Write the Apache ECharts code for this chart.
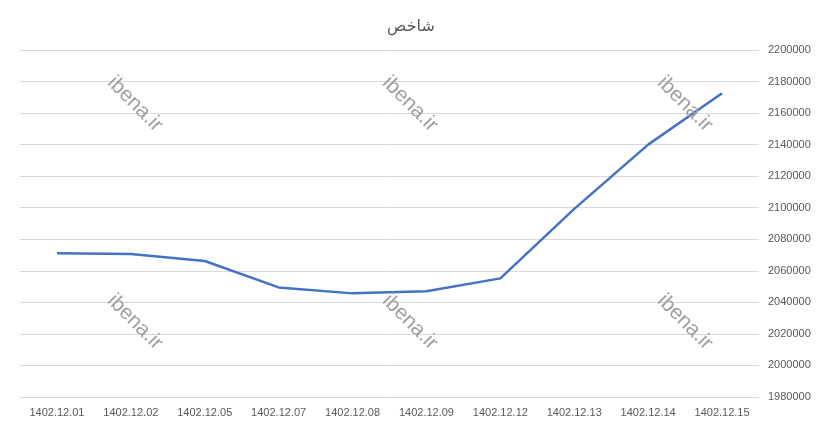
<!DOCTYPE html>
<html lang="fa">
<head>
  <meta charset="UTF-8">
  <script src="https://cdn.jsdelivr.net/npm/echarts@6/dist/echarts.min.js"></script>
  <title>شاخص</title>
  <style>
    html, body { margin: 0; padding: 0; background: #fff; }
    #chart { width: 822px; height: 430px; }
  </style>
</head>
<body>
<div id="chart"></div>
<script type="text/javascript">
  const dates = ['1402.12.01', '1402.12.02', '1402.12.05', '1402.12.07', '1402.12.08',
                 '1402.12.09', '1402.12.12', '1402.12.13', '1402.12.14', '1402.12.15'];
  const index = [2071100, 2070600, 2066200, 2049500, 2045700,
                 2047000, 2055200, 2099300, 2140000, 2172600];
  const watermarkSpots = [[135, 104], [410, 104], [685, 104], [135, 322], [410, 322], [685, 322]];

  const labelFont = '"Liberation Sans Narrow", "Liberation Sans", sans-serif';

  function watermarks() {
    return watermarkSpots.map(function (p) {
      return {
        type: 'text',
        x: p[0],
        y: p[1],
        rotation: -Math.PI / 4,
        z: 100,
        silent: true,
        style: {
          text: 'ibena.ir',
          fill: '#a0a0a0',
          font: '21px "Liberation Sans", sans-serif',
          align: 'center',
          verticalAlign: 'middle'
        }
      };
    });
  }

  let myChart = echarts.init(document.getElementById('chart'));
  myChart.setOption({
    animation: false,
    title: {
      text: 'شاخص',
      left: 'center',
      top: 14,
      textStyle: { color: '#595959', fontSize: 16, fontWeight: 'normal', fontFamily: '"DejaVu Sans", sans-serif' }
    },
    grid: { left: 20, right: 63, top: 50, bottom: 33 },
    xAxis: {
      type: 'category',
      data: dates,
      boundaryGap: true,
      axisLine: { show: false },
      axisTick: { show: false },
      axisLabel: { color: '#595959', fontSize: 11, fontFamily: labelFont, margin: 10, interval: 0 }
    },
    yAxis: {
      type: 'value',
      position: 'right',
      min: 1980000,
      max: 2200000,
      interval: 20000,
      axisLine: { show: false },
      axisTick: { show: false },
      axisLabel: {
        color: '#595959', fontSize: 11, fontFamily: labelFont, margin: 9,
        formatter: function (v) { return String(v); }
      },
      splitLine: { lineStyle: { color: '#d9d9d9', width: 1 } }
    },
    series: [
      {
        type: 'line',
        data: index,
        showSymbol: false,
        symbol: 'none',
        lineStyle: { color: '#4472C4', width: 2.5 },
        itemStyle: { color: '#4472C4' }
      }
    ],
    graphic: watermarks()
  });
</script>
</body>
</html>
